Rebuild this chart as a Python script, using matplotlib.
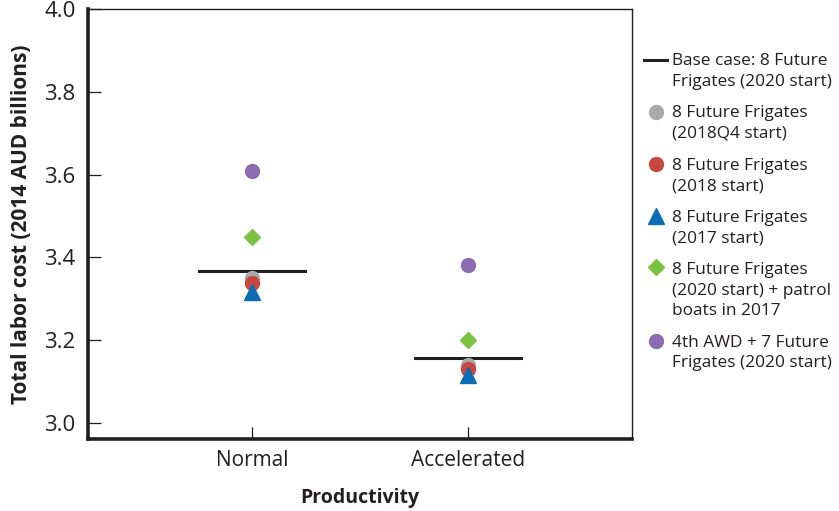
import matplotlib
matplotlib.use("Agg")
import matplotlib.pyplot as plt
from matplotlib.lines import Line2D
from matplotlib.legend_handler import HandlerLine2D

plt.rcParams['font.family'] = ['Open Sans', 'DejaVu Sans']

# data
categories = ['Normal', 'Accelerated']
base_case = [3.368, 3.156]
frig_2018q4 = [3.350, 3.139]
frig_2018 = [3.338, 3.129]
frig_2017 = [3.316, 3.115]
frig_patrol = [3.449, 3.200]
awd_plus_7 = [3.608, 3.381]

labels = ['Base case: 8 Future\nFrigates (2020 start)',
          '8 Future Frigates\n(2018Q4 start)',
          '8 Future Frigates\n(2018 start)',
          '8 Future Frigates\n(2017 start)',
          '8 Future Frigates\n(2020 start) + patrol\nboats in 2017',
          '4th AWD + 7 Future\nFrigates (2020 start)']

ink = '#231f20'
c_grey = '#a7a9ac'
c_red = '#c8463d'
c_blue = '#0b6db3'
c_green = '#7cc242'
c_purple = '#8c6bb0'

LEG_FS = 12.4
LEG_LS = 1.37


class FirstLineHandler(HandlerLine2D):
    """Put the legend handle level with the first line of a multi-line label."""
    def __init__(self, nlines, **kw):
        super().__init__(**kw)
        self.nlines = nlines

    def create_artists(self, legend, orig_handle, xdescent, ydescent,
                       width, height, fontsize, trans):
        off = 0.5 * (self.nlines - 1) * LEG_LS * fontsize
        return super().create_artists(legend, orig_handle, xdescent,
                                      ydescent - 2 * off, width, height,
                                      fontsize, trans)


fig = plt.figure(figsize=(8.39, 5.11), dpi=100)
ax = fig.add_axes([0.105, 0.141, 0.648, 0.841])

x = list(range(len(categories)))
half = 0.245
for xi, yb in zip(x, base_case):
    ax.plot([xi - half, xi + half], [yb, yb], color=ink, lw=2.2, zorder=2)

ms = 10
ax.plot(x, frig_2018q4, 'o', color=c_grey, ms=ms, zorder=3)
ax.plot(x, frig_2018, 'o', color=c_red, ms=ms, zorder=4)
ax.plot(x, frig_2017, '^', color=c_blue, ms=ms + 1, zorder=5)
ax.plot(x, frig_patrol, 'D', color=c_green, ms=8, zorder=3)
ax.plot(x, awd_plus_7, 'o', color=c_purple, ms=ms, zorder=3)

ax.set_xlim(-0.759, 1.759)
ax.set_ylim(2.961, 4.0)
ax.set_xticks(x)
ax.set_xticklabels(categories)
ax.set_yticks([3.0, 3.2, 3.4, 3.6, 3.8, 4.0])
ax.set_yticklabels(['3.0', '3.2', '3.4', '3.6', '3.8', '4.0'])
ax.tick_params(direction='in', length=9, width=0.9, color=ink,
               labelsize=15, labelcolor=ink)
ax.tick_params(axis='y', pad=9, labelsize=16)
ax.tick_params(axis='x', pad=8)

for side in ['left', 'bottom']:
    ax.spines[side].set_linewidth(2.6)
    ax.spines[side].set_color(ink)
for side in ['top', 'right']:
    ax.spines[side].set_linewidth(1.0)
    ax.spines[side].set_color(ink)

ax.set_xlabel('Productivity', fontsize=14, fontweight='bold', color=ink, labelpad=12)
ax.set_ylabel('Total labor cost (2014 AUD billions)', fontsize=15,
              fontweight='bold', color=ink, labelpad=9)

handles = [Line2D([], [], color=ink, lw=2.2),
           Line2D([], [], ls='', marker='o', color=c_grey, ms=ms),
           Line2D([], [], ls='', marker='o', color=c_red, ms=ms),
           Line2D([], [], ls='', marker='^', color=c_blue, ms=ms + 1),
           Line2D([], [], ls='', marker='D', color=c_green, ms=8),
           Line2D([], [], ls='', marker='o', color=c_purple, ms=ms)]
hmap = {h: FirstLineHandler(lab.count('\n') + 1, numpoints=1)
        for h, lab in zip(handles, labels)}

leg = fig.legend(handles, labels, handler_map=hmap, loc='upper left',
                 bbox_to_anchor=(0.768, 0.896), frameon=False, fontsize=LEG_FS,
                 borderpad=0, borderaxespad=0, handlelength=1.3,
                 handletextpad=0.3, labelspacing=0.92, labelcolor=ink)
for t in leg.get_texts():
    t.set_linespacing(LEG_LS)

fig.savefig('out.png', dpi=100)
